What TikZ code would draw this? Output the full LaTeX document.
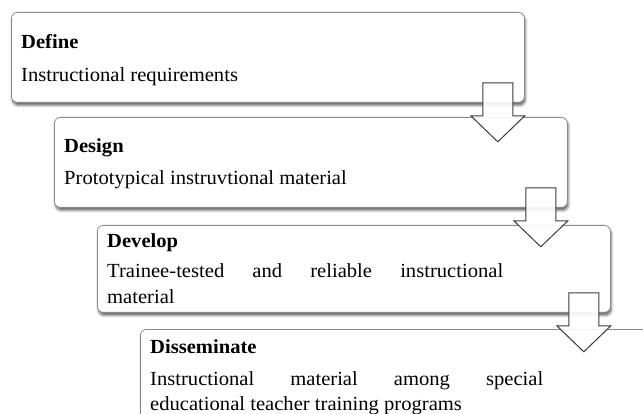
\documentclass[tikz,border=0pt]{standalone}
\usepackage{fontspec}
\setmainfont{Liberation Serif}[FakeStretch=1.03]
\usetikzlibrary{calc,shadows.blur}
\definecolor{boxgray}{HTML}{8A8A8A}
\definecolor{arrowgray}{HTML}{3C3C3C}
\begin{document}
\begin{tikzpicture}[x=1pt,y=1pt,
  stagebox/.style={draw=boxgray, line width=0.8pt, rounded corners=6pt, fill=white,
    inner sep=0pt, minimum width=513pt, minimum height=90pt, anchor=north west,
    blur shadow={shadow xshift=1pt, shadow yshift=-3pt, shadow blur radius=2.5pt, shadow opacity=60}},
  titletext/.style={anchor=base west, inner sep=0pt, font=\fontsize{20}{24}\selectfont\bfseries},
  bodytext/.style={anchor=base west, inner sep=0pt, font=\fontsize{20}{24}\selectfont},
  blockarrow/.style={draw=arrowgray, line width=1pt, fill=white, fill opacity=0.9, line join=miter}]
\useasboundingbox (0,0) rectangle (643,-414);
\clip (0,0) rectangle (643,-414);
\node[stagebox] (b1) at (11,-12) {};
\node[stagebox] (b2) at (54,-117) {};
\node[stagebox, minimum height=87pt] (b3) at (97,-225) {};
\node[stagebox] (b4) at (140,-329) {};
\node[titletext] (t1) at ($(b1.north west)+(10,-37)$) {Define};
\node[bodytext] (d1) at ($(b1.north west)+(10,-70)$) {Instructional requirements};
\node[titletext] (t2) at ($(b2.north west)+(10,-36)$) {Design};
\node[bodytext] (d2) at ($(b2.north west)+(10,-68)$) {Prototypical instruvtional material};
\node[titletext] (t3) at ($(b3.north west)+(10,-23)$) {Develop};
\node[bodytext] (d3a) at ($(b3.north west)+(10,-53)$) {\makebox[396pt][s]{Trainee-tested and reliable instructional}};
\node[bodytext] (d3b) at ($(b3.north west)+(10,-79)$) {material};
\node[titletext] (t4) at ($(b4.north west)+(10,-24)$) {Disseminate};
\node[bodytext] (d4a) at ($(b4.north west)+(10,-56)$) {\makebox[393pt][s]{Instructional material among special}};
\node[bodytext] (d4b) at ($(b4.north west)+(10,-81)$) {educational teacher training programs};
\foreach \a in {b1,b2,b3}
  \draw[blockarrow] ($(\a.south east)+(-42,20)$) -- ++(30,0) -- ++(0,-33) -- ++(12,0)
    -- ++(-27,-26) -- ++(-27,26) -- ++(12,0) -- cycle;
\end{tikzpicture}
\end{document}
